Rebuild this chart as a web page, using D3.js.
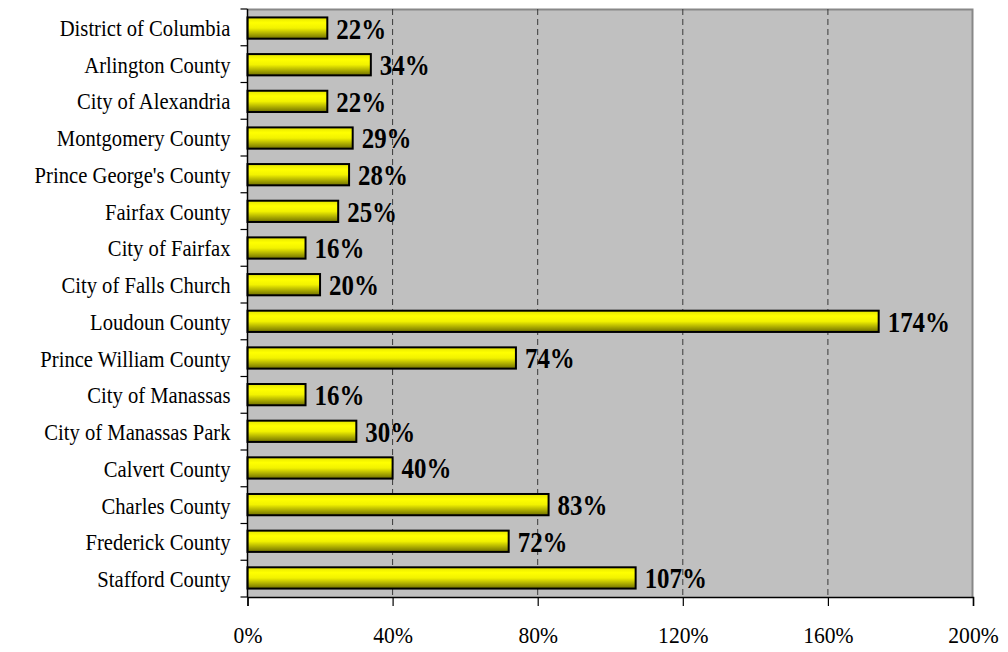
<!DOCTYPE html>
<html>
<head>
<meta charset="utf-8">
<script src="https://cdn.jsdelivr.net/npm/d3@7"></script>
<style>
  html, body { margin: 0; padding: 0; background: #fff; }
  svg { display: block; }
</style>
</head>
<body>
<svg id="chart" width="1008" height="652"></svg>
<script>
// Percentage change by jurisdiction
const categories = [
  "District of Columbia", "Arlington County", "City of Alexandria", "Montgomery County",
  "Prince George's County", "Fairfax County", "City of Fairfax", "City of Falls Church",
  "Loudoun County", "Prince William County", "City of Manassas", "City of Manassas Park",
  "Calvert County", "Charles County", "Frederick County", "Stafford County"
];
const values = [22, 34, 22, 29, 28, 25, 16, 20, 174, 74, 16, 30, 40, 83, 72, 107];
const xTicks = [0, 40, 80, 120, 160, 200];

const svg = d3.select("#chart");
const margin = { top: 9, right: 35, bottom: 55, left: 247.5 };
const width = 1008 - margin.left - margin.right;
const height = 652 - margin.top - margin.bottom;
const serif = "'Liberation Serif', 'Times New Roman', serif";

const x = d3.scaleLinear().domain([0, 200]).range([0, width]);
const y = d3.scaleBand().domain(categories).range([0, height]).paddingInner(0.42).paddingOuter(0.23);
const yb = d3.scaleBand().domain(categories).range([0, height]);

// Bar fill: shaded yellow cylinder look
const defs = svg.append("defs");
const grad = defs.append("linearGradient").attr("id", "barFill")
  .attr("x1", 0).attr("y1", 0).attr("x2", 0).attr("y2", 1);
[[0, "#e4e400"], [0.25, "#ffff00"], [0.5, "#f2f200"], [1, "#6e6e00"]]
  .forEach(([o, c]) => grad.append("stop").attr("offset", o).attr("stop-color", c));

const g = svg.append("g").attr("transform", `translate(${margin.left},${margin.top})`);

// Plot background
g.append("rect").attr("x", 0).attr("y", 0).attr("width", width).attr("height", height)
  .attr("fill", "#c0c0c0");
// top and right frame
g.append("path").attr("d", `M0,0.5H${width - 0.5}V${height}`)
  .attr("fill", "none").attr("stroke", "#888").attr("stroke-width", 2);

// Dashed vertical gridlines
g.selectAll("line.grid").data(xTicks.filter(t => t > 0 && t < 200)).join("line")
  .attr("class", "grid")
  .attr("x1", d => x(d)).attr("x2", d => x(d))
  .attr("y1", 0).attr("y2", height)
  .attr("stroke", "#3a3a3a").attr("stroke-width", 1).attr("stroke-dasharray", "6,4");

// Bars
g.selectAll("rect.bar").data(values).join("rect")
  .attr("class", "bar")
  .attr("x", 0)
  .attr("y", (d, i) => y(categories[i]))
  .attr("width", d => x(d))
  .attr("height", y.bandwidth())
  .attr("fill", "url(#barFill)")
  .attr("stroke", "#000").attr("stroke-width", 2);

// Value labels (slightly condensed bold serif)
g.selectAll("text.val").data(values).join("text")
  .attr("class", "val")
  .attr("transform", (d, i) =>
    `translate(${x(d) + 9},${y(categories[i]) + y.bandwidth() / 2}) scale(0.86,1)`)
  .attr("dy", "0.36em")
  .attr("font-family", serif)
  .attr("font-weight", "bold")
  .attr("font-size", 29)
  .attr("fill", "#000")
  .text(d => d + "%");

// Left axis: ticks at category boundaries
const leftAxis = g.append("g");
leftAxis.append("line").attr("x1", 0).attr("x2", 0).attr("y1", 0).attr("y2", height)
  .attr("stroke", "#000").attr("stroke-width", 1.5);
leftAxis.selectAll("line.tk").data(categories.concat([null])).join("line")
  .attr("class", "tk")
  .attr("x1", -7).attr("x2", 0)
  .attr("y1", (d, i) => i * yb.bandwidth()).attr("y2", (d, i) => i * yb.bandwidth())
  .attr("stroke", "#000").attr("stroke-width", 1.2);
leftAxis.selectAll("text").data(categories).join("text")
  .attr("transform", d => `translate(-17,${yb(d) + yb.bandwidth() / 2}) scale(0.86,1)`)
  .attr("dy", "0.35em")
  .attr("text-anchor", "end")
  .attr("font-family", serif)
  .attr("font-size", 24)
  .attr("fill", "#000")
  .text(d => d);

// Bottom axis
const xAxis = d3.axisBottom(x).tickValues(xTicks).tickFormat(d => d + "%").tickSize(9).tickPadding(20);
const bx = g.append("g").attr("transform", `translate(0,${height})`).call(xAxis);
bx.select(".domain").attr("stroke", "#000").attr("stroke-width", 1.5);
bx.selectAll(".tick line").attr("stroke", "#000").attr("stroke-width", 1.2);
bx.selectAll(".tick text")
  .attr("transform", "scale(0.9,1)")
  .attr("font-family", serif)
  .attr("font-size", 24)
  .attr("fill", "#000");
</script>
</body>
</html>
